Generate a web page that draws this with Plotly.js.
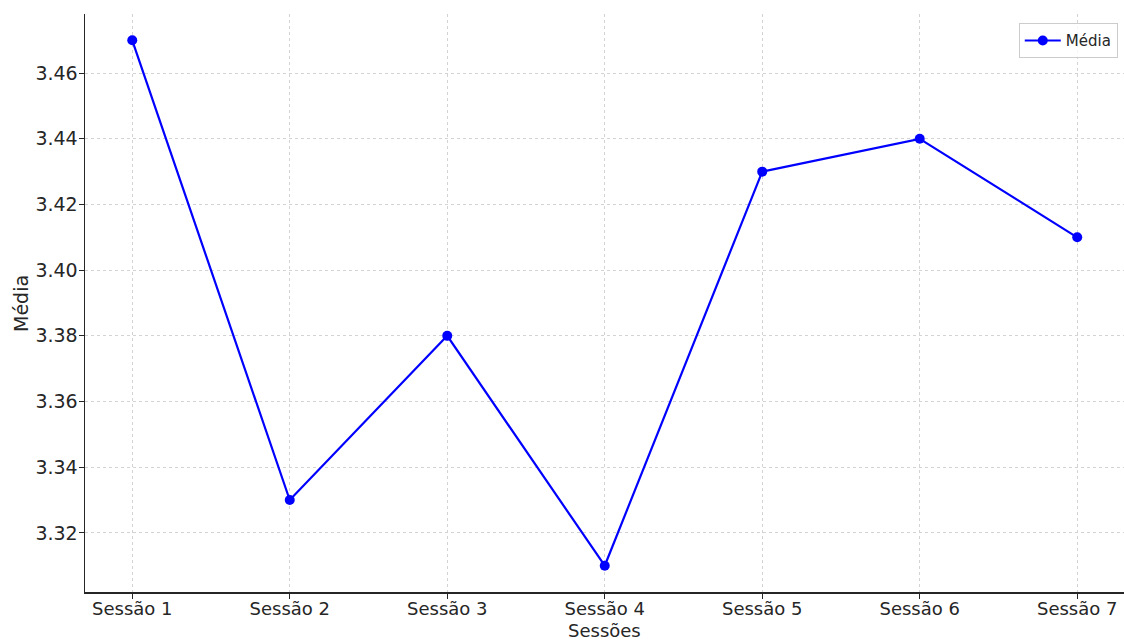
<!DOCTYPE html>
<html>
<head>
<meta charset="utf-8">
<script src="https://cdn.plot.ly/plotly-3.0.1.min.js"></script>
<style>html,body{margin:0;padding:0;background:#fff;}#chart{width:1124px;height:641px;}</style>
</head>
<body>
<div id="chart"></div>
<script>
const sessions = ["Sessão 1","Sessão 2","Sessão 3","Sessão 4","Sessão 5","Sessão 6","Sessão 7"];
const means = [3.47, 3.33, 3.38, 3.31, 3.43, 3.44, 3.41];
const yTicks = [3.32, 3.34, 3.36, 3.38, 3.40, 3.42, 3.44, 3.46];
const yTickText = ["3.32","3.34","3.36","3.38","3.40","3.42","3.44","3.46"];
const xTitle = "Sessões";
const yTitle = "Média";

const font = {family: "DejaVu Sans", size: 19, color: "#262626"};
const xFont = {family: "DejaVu Sans", size: 18, color: "#262626"};
const trace = {
  x: sessions.map((s,i)=>i),
  y: means,
  type: "scatter",
  mode: "lines+markers",
  name: "Média",
  line: {color: "#0000ff", width: 2.2},
  marker: {color: "#0000ff", size: 10}
};
const layout = {
  width: 1124, height: 641,
  margin: {l: 85, r: 0, t: 14, b: 49},
  paper_bgcolor: "#fff", plot_bgcolor: "#fff",
  font: font,
  showlegend: true,
  legend: {x: 0.994, y: 0.984, xanchor: "right", yanchor: "top",
           bordercolor: "#cccccc", borderwidth: 1, bgcolor: "rgba(255,255,255,0.8)",
           itemwidth: 36, tracegroupgap: 0,
           font: {family: "DejaVu Sans", size: 15, color: "#262626"}},
  xaxis: {
    range: [-0.3, 6.297],
    tickvals: sessions.map((s,i)=>i), ticktext: sessions,
    tickfont: xFont,
    showline: true, linecolor: "#262626", linewidth: 1.5,
    ticks: "outside", ticklen: 5, tickcolor: "#262626",
    ticklabelstandoff: -5,
    showgrid: true, gridcolor: "#d3d3d3", griddash: "3px,3px", gridwidth: 1,
    zeroline: false, mirror: false, automargin: false
  },
  yaxis: {
    range: [3.302, 3.478],
    tickvals: yTicks, ticktext: yTickText,
    showline: true, linecolor: "#262626", linewidth: 1.5,
    ticks: "outside", ticklen: 5, tickcolor: "#262626",
    ticklabelstandoff: -3,
    showgrid: true, gridcolor: "#d3d3d3", griddash: "3px,3px", gridwidth: 1,
    zeroline: false, automargin: false
  },
  annotations: [
    {text: xTitle, xref: "paper", yref: "paper", x: 0.5, y: -0.066,
     xanchor: "center", yanchor: "middle", showarrow: false, font: xFont},
    {text: yTitle, xref: "paper", yref: "paper", x: -0.0616, y: 0.5,
     xanchor: "center", yanchor: "middle", textangle: -90, showarrow: false, font: font}
  ]
};
Plotly.newPlot("chart", [trace], layout, {displayModeBar: false, staticPlot: true});
</script>
</body>
</html>
